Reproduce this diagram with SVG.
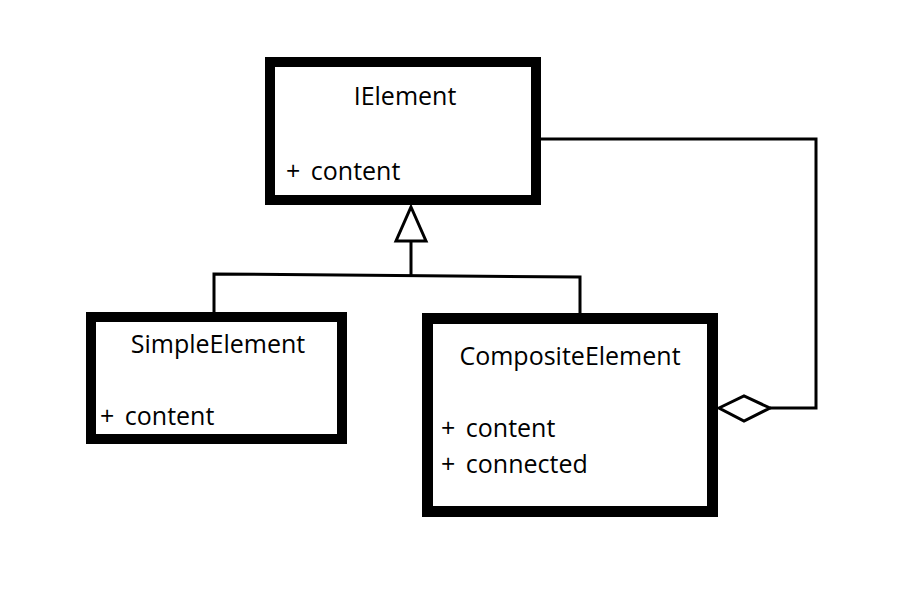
<svg xmlns="http://www.w3.org/2000/svg" width="900" height="600" viewBox="0 0 900 600">
<style>
.box{fill:#fff;stroke:#000}
.t{font-family:"Open Sans","Noto Sans",sans-serif;font-size:25px;fill:#000}
.c{text-anchor:middle}
.a{word-spacing:4px}
.ln{fill:none;stroke:#000;stroke-width:3}
</style>
<rect width="900" height="600" fill="#fff"/>
<g id="connectors">
<polyline class="ln" points="541,139 816,139 816,408 770,408"/>
<polygon class="ln" fill="#fff" points="719,408 744,396 770,408 744,421"/>
<polygon class="ln" fill="#fff" points="411,207 426,241 396,241"/>
<line class="ln" x1="411" y1="241" x2="411" y2="275"/>
<polyline class="ln" points="214,313 214,274 580,277 580,315"/>
</g>
<g id="IElement">
<rect class="box" x="270" y="62" width="266" height="138" stroke-width="10"/>
<text class="t c" x="405" y="105">IElement</text>
<text class="t a" x="286" y="180">+ content</text>
</g>
<g id="SimpleElement">
<rect class="box" x="91" y="317" width="251" height="122" stroke-width="10"/>
<text class="t c" x="218" y="353">SimpleElement</text>
<text class="t a" x="100" y="425">+ content</text>
</g>
<g id="CompositeElement">
<rect class="box" x="427.5" y="318.5" width="285" height="193" stroke-width="11"/>
<text class="t c" x="570" y="365">CompositeElement</text>
<text class="t a" x="441" y="437">+ content</text>
<text class="t a" x="441" y="473">+ connected</text>
</g>
</svg>
